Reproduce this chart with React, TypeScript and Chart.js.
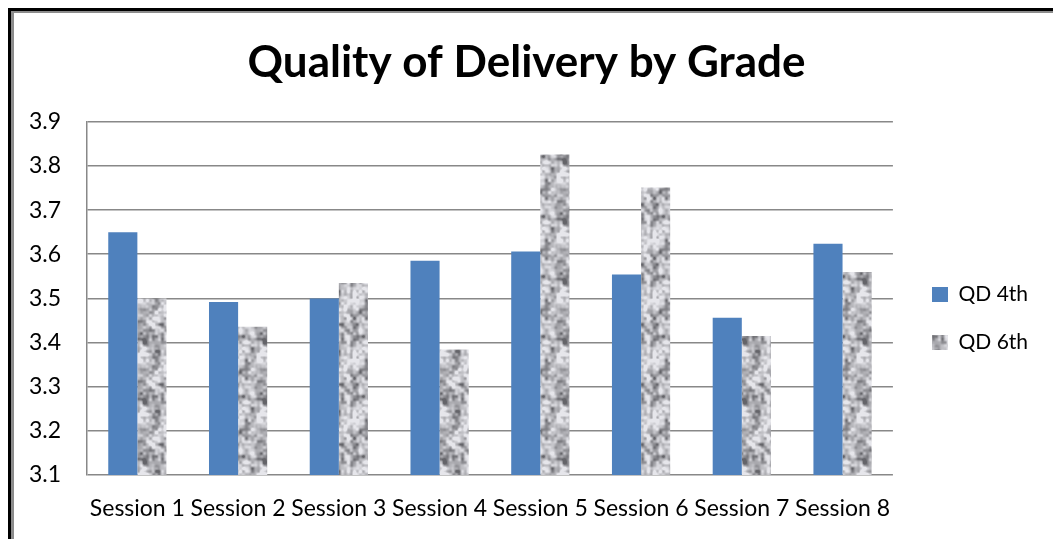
import { useEffect, useRef } from 'react';
import { Chart, registerables } from 'chart.js';

Chart.register(...registerables);

const categories = ['Session 1', 'Session 2', 'Session 3', 'Session 4', 'Session 5', 'Session 6', 'Session 7', 'Session 8'];
const seriesNames = ['QD 4th', 'QD 6th'];
const qd4th = [3.65, 3.492, 3.5, 3.585, 3.606, 3.554, 3.456, 3.624];
const qd6th = [3.5, 3.436, 3.535, 3.384, 3.826, 3.751, 3.415, 3.56];
const yMin = 3.1;
const yMax = 3.9;
const yStep = 0.1;

const TITLE = 'Quality of Delivery by Grade';
const FONT = 'Lato, "Noto Sans", sans-serif';

function makeGranite(target: CanvasRenderingContext2D): CanvasPattern | string {
  const size = 60;
  const tile = document.createElement('canvas');
  tile.width = size;
  tile.height = size;
  const ctx = tile.getContext('2d');
  if (!ctx) return '#aaaaaa';
  let seed = 12345;
  const rnd = () => {
    seed = (seed * 1103515245 + 12345) & 0x7fffffff;
    return seed / 0x7fffffff;
  };
  const octave = (cell: number) => {
    const n = size / cell;
    const g: number[] = [];
    for (let i = 0; i < n * n; i++) g.push(rnd());
    return (x: number, y: number) => {
      const gx = x / cell, gy = y / cell;
      const x0 = Math.floor(gx), y0 = Math.floor(gy);
      const fx = gx - x0, fy = gy - y0;
      const sx = fx * fx * (3 - 2 * fx), sy = fy * fy * (3 - 2 * fy);
      const v = (a: number, b: number) => g[((b % n + n) % n) * n + ((a % n + n) % n)];
      const top = v(x0, y0) * (1 - sx) + v(x0 + 1, y0) * sx;
      const bot = v(x0, y0 + 1) * (1 - sx) + v(x0 + 1, y0 + 1) * sx;
      return top * (1 - sy) + bot * sy;
    };
  };
  const o1 = octave(6);
  const o2 = octave(3);
  const img = ctx.createImageData(size, size);
  for (let y = 0; y < size; y++) {
    for (let x = 0; x < size; x++) {
      let v = 0.55 * o1(x, y) + 0.45 * o2(x, y);
      v = Math.max(0, Math.min(1, (v - 0.45) * 1.9 + 0.5));
      const c = Math.round(100 + Math.pow(v, 0.85) * 130);
      const i = (y * size + x) * 4;
      img.data[i] = c;
      img.data[i + 1] = c;
      img.data[i + 2] = c + 5 > 255 ? 255 : c + 5;
      img.data[i + 3] = 255;
    }
  }
  ctx.putImageData(img, 0, 0);
  return target.createPattern(tile, 'repeat') || '#aaaaaa';
}

const placeBlocks = {
  id: 'placeBlocks',
  afterLayout(chart: any) {
    const t = chart.titleBlock;
    if (t) {
      t.left = 0;
      t.right = chart.width;
    }
    const l = chart.legend;
    if (!l || !l.columnSizes || !l.columnSizes.length) return;
    const pad = l.options.labels.padding;
    const dx = 932 - (l.left + pad);
    l.left += dx;
    l.right += dx;
    const cur = (l.top + pad + l.bottom - l.columnSizes[0].height) / 2;
    const dy = 284 - cur;
    l.top += dy;
    l.bottom += dy;
  },
};

export default function App() {
  const ref = useRef<HTMLCanvasElement>(null);
  useEffect(() => {
    const canvas = ref.current;
    if (!canvas) return;
    const ctx = canvas.getContext('2d');
    if (!ctx) return;
    const granite = makeGranite(ctx);
    const chart = new Chart(canvas, {
      type: 'bar',
      data: {
        labels: categories,
        datasets: [
          {
            label: seriesNames[0],
            data: qd4th,
            backgroundColor: '#4F81BD',
            borderWidth: 0,
            borderColor: 'rgba(0,0,0,0)',
            categoryPercentage: 0.578,
            barPercentage: 1.0,
          },
          {
            label: seriesNames[1],
            data: qd6th,
            backgroundColor: granite as any,
            borderWidth: 0,
            borderColor: 'rgba(0,0,0,0)',
            categoryPercentage: 0.578,
            barPercentage: 1.0,
          },
        ],
      },
      plugins: [placeBlocks],
      options: {
        animation: false,
        responsive: false,
        maintainAspectRatio: false,
        devicePixelRatio: 1,
        layout: { padding: { left: 0, right: 27, top: 0, bottom: 0 } },
        plugins: {
          title: {
            display: true,
            text: TITLE,
            color: '#000',
            font: { family: FONT, size: 44, weight: 'bold', lineHeight: 1.2 },
            padding: { top: 36, bottom: 33 },
          },
          legend: {
            display: true,
            position: 'right',
            labels: {
              color: '#000',
              font: { family: FONT, size: 21 },
              boxWidth: 16,
              boxHeight: 15,
              padding: 27,
            },
          },
          tooltip: { enabled: false },
        },
        scales: {
          x: {
            grid: { display: false, drawTicks: false },
            border: { display: false },
            ticks: {
              color: '#000',
              font: { family: FONT, size: 23 },
              padding: 20,
              autoSkip: false,
              maxRotation: 0,
              minRotation: 0,
            },
            afterFit: (s: any) => {
              s.height = 64;
            },
          },
          y: {
            min: yMin,
            max: yMax,
            grid: { color: '#888888', lineWidth: 1.5, drawTicks: false },
            border: { display: true, color: '#888888', width: 1.5 },
            ticks: {
              stepSize: yStep,
              color: '#000',
              font: { family: FONT, size: 23 },
              padding: 26,
              callback: (v: any) => Number(v).toFixed(1),
            },
            afterFit: (s: any) => {
              s.width = 87;
            },
          },
        },
      },
    });
    return () => chart.destroy();
  }, []);

  return (
    <div style={{ position: 'fixed', left: 0, top: 0, width: 1053, height: 539, background: '#fff', overflow: 'hidden' }}>
      <canvas ref={ref} width={1053} height={539} style={{ position: 'absolute', left: 0, top: 0, width: 1053, height: 539 }} />
      <div style={{ position: 'absolute', left: 8, top: 8, width: 1045, height: 3, background: '#000' }} />
      <div style={{ position: 'absolute', left: 8, top: 8, width: 3, height: 531, background: '#000' }} />
      <div style={{ position: 'absolute', left: 11, top: 11, width: 1042, height: 1.5, background: '#8c8c8c' }} />
      <div style={{ position: 'absolute', left: 11, top: 11, width: 2.5, height: 528, background: '#8c8c8c' }} />
    </div>
  );
}
